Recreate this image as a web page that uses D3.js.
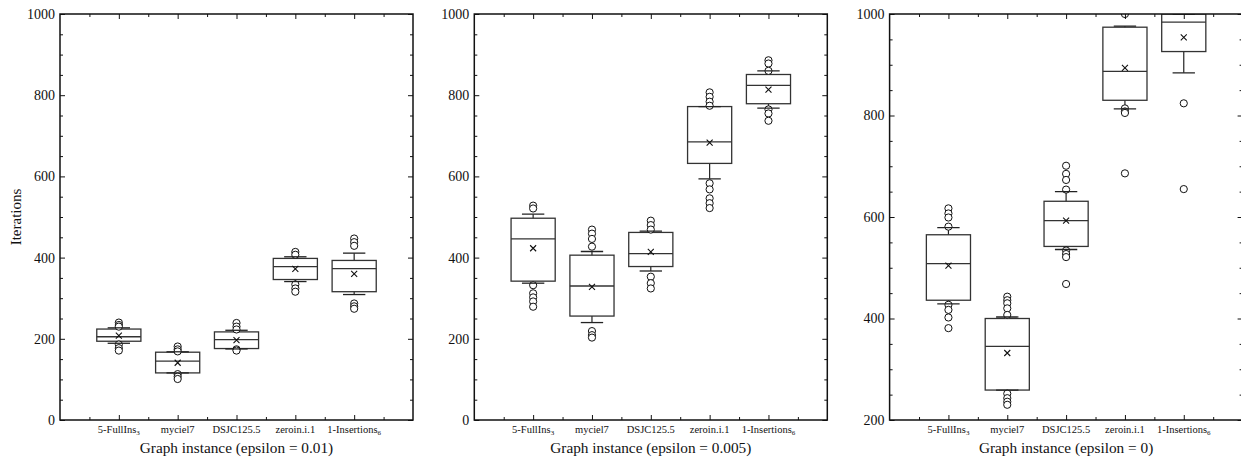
<!DOCTYPE html>
<html>
<head>
<meta charset="utf-8">
<script src="https://cdn.jsdelivr.net/npm/d3@7"></script>
<style>
  body { margin: 0; background: #fff; }
  svg { display: block; }
  text { font-family: "Liberation Serif", "Times New Roman", serif; }
</style>
</head>
<body>
<div id="vis-container"></div>
<script>
// graph instances, with subscript part kept separate
var categories = ["5-FullIns", "myciel7", "DSJC125.5", "zeroin.i.1", "1-Insertions"];
var subscripts = ["3", "", "", "", "6"];
var epsilons = ["0.01", "0.005", "0"];
var yDomains = [[0, 1000], [0, 1000], [200, 1000]];
var yTicks = [[0, 200, 400, 600, 800, 1000], [0, 200, 400, 600, 800, 1000], [200, 400, 600, 800, 1000]];

// per instance: [low whisker, q1, median, q3, high whisker, mean]
var stats001 = [
  [189, 194, 205, 224, 227, 208],
  [116, 116, 145, 167, 168, 141],
  [175, 176, 198, 217, 221, 197],
  [341, 346, 378, 398, 402, 372],
  [309, 316, 373, 393, 411, 360]
];
var outliers001 = [
  [240, 234, 230, 186, 177, 171],
  [181, 174, 169, 113, 107, 101],
  [239, 230, 223, 174, 171],
  [414, 407, 334, 324, 316],
  [447, 438, 429, 287, 280, 274]
];

var stats0005 = [
  [337, 342, 446, 497, 507, 423],
  [240, 256, 330, 406, 415, 328],
  [367, 378, 410, 462, 465, 414],
  [594, 632, 685, 772, 772, 683],
  [768, 779, 824, 851, 860, 814]
];
var outliers0005 = [
  [528, 521, 332, 312, 302, 292, 279],
  [469, 459, 446, 427, 219, 209, 203],
  [491, 480, 469, 353, 337, 324],
  [807, 796, 784, 774, 583, 568, 546, 534, 522],
  [886, 878, 860, 765, 755, 737]
];

var stats0 = [
  [429, 436, 508, 565, 579, 504],
  [259, 259, 345, 400, 403, 332],
  [536, 542, 593, 631, 650, 593],
  [813, 830, 887, 974, 976, 894],
  [884, 926, 984, 1000, 1000, 954]
];
var outliers0 = [
  [617, 607, 599, 581, 427, 417, 402, 381],
  [443, 436, 430, 420, 407, 252, 243, 236, 230],
  [701, 685, 673, 654, 534, 527, 521, 468],
  [1000, 814, 808, 805, 686],
  [824, 655]
];

var allStats = [stats001, stats0005, stats0];
var allOutliers = [outliers001, outliers0005, outliers0];

var W = 1241, H = 460;
var panelLeft = [60, 474.3, 889.6],
    panelW = 353,
    plotTop = 14, plotBottom = 420;
var serif = '"Liberation Serif", "Times New Roman", serif';

var svg = d3.select("#vis-container").append("svg")
  .attr("width", W).attr("height", H)
  .attr("font-family", serif);

var defs = svg.append("defs");

panelLeft.forEach(function(px, p) {
  var ph = plotBottom - plotTop;
  var x = d3.scaleLinear().domain([0, 6]).range([0, panelW]);
  var y = d3.scaleLinear().domain(yDomains[p]).range([ph, 0]);

  var g = svg.append("g").attr("transform", "translate(" + px + "," + plotTop + ")");

  defs.append("clipPath").attr("id", "clip" + p)
    .append("rect").attr("x", 0).attr("y", 0).attr("width", panelW).attr("height", ph);

  var marks = g.append("g").attr("clip-path", "url(#clip" + p + ")");
  var boxW = x(0.75) - x(0), capW = x(0.38) - x(0);

  var box = marks.selectAll("g.box")
    .data(allStats[p])
    .enter().append("g")
    .attr("class", "box")
    .attr("transform", function(d, i) { return "translate(" + x(i + 1) + ",0)"; });

  // whisker stems
  box.append("line")
    .attr("x1", 0).attr("x2", 0)
    .attr("y1", function(d) { return y(d[0]); })
    .attr("y2", function(d) { return y(d[1]); })
    .attr("stroke", "#222").attr("stroke-width", 1.2);
  box.append("line")
    .attr("x1", 0).attr("x2", 0)
    .attr("y1", function(d) { return y(d[3]); })
    .attr("y2", function(d) { return y(d[4]); })
    .attr("stroke", "#222").attr("stroke-width", 1.2);

  // box
  box.append("rect")
    .attr("x", -boxW / 2).attr("width", boxW)
    .attr("y", function(d) { return y(d[3]); })
    .attr("height", function(d) { return y(d[1]) - y(d[3]); })
    .attr("fill", "none").attr("stroke", "#333").attr("stroke-width", 1.3);

  // median
  box.append("line")
    .attr("x1", -boxW / 2).attr("x2", boxW / 2)
    .attr("y1", function(d) { return y(d[2]); })
    .attr("y2", function(d) { return y(d[2]); })
    .attr("stroke", "#333").attr("stroke-width", 1.3);

  // outliers
  box.selectAll("circle")
    .data(function(d, i) { return allOutliers[p][i]; })
    .enter().append("circle")
    .attr("cx", 0)
    .attr("cy", function(v) { return y(v); })
    .attr("r", 3.6)
    .attr("fill", "#fff").attr("stroke", "#111").attr("stroke-width", 1);

  // caps
  [0, 4].forEach(function(k) {
    box.append("line")
      .attr("x1", -capW / 2).attr("x2", capW / 2)
      .attr("y1", function(d) { return y(d[k]); })
      .attr("y2", function(d) { return y(d[k]); })
      .attr("stroke", "#222").attr("stroke-width", 1.3);
  });

  // mean cross
  box.append("path")
    .attr("d", function(d) {
      var m = y(d[5]), s = 3;
      return "M" + (-s) + "," + (m - s) + "L" + s + "," + (m + s) +
             "M" + (-s) + "," + (m + s) + "L" + s + "," + (m - s);
    })
    .attr("stroke", "#111").attr("stroke-width", 1.1).attr("fill", "none");

  // ticks
  var minorY = d3.range(yDomains[p][0], yDomains[p][1] + 1, 50).filter(function(v) { return v % 200 !== 0; });
  var majorX = [1, 2, 3, 4, 5], minorX = [0.5, 1.5, 2.5, 3.5, 4.5, 5.5];

  function addAxis(axis, tr) {
    var a = g.append("g").attr("transform", tr).call(axis);
    a.attr("font-family", serif);
    a.select(".domain").remove();
    a.selectAll(".tick line").attr("stroke", "#111").attr("stroke-width", 1);
    return a;
  }

  addAxis(d3.axisLeft(y).tickValues(minorY).tickSize(-3).tickFormat(""), "translate(0,0)");
  addAxis(d3.axisRight(y).tickValues(minorY).tickSize(-3).tickFormat(""), "translate(" + panelW + ",0)");
  addAxis(d3.axisRight(y).tickValues(yTicks[p]).tickSize(-5).tickFormat(""), "translate(" + panelW + ",0)");
  var yl = addAxis(d3.axisLeft(y).tickValues(yTicks[p]).tickSize(-5).tickPadding(5).tickFormat(d3.format("d")), "translate(0,0)");
  yl.attr("font-size", 14);
  yl.selectAll("text").attr("fill", "#111");

  addAxis(d3.axisBottom(x).tickValues(minorX).tickSize(-3).tickFormat(""), "translate(0," + ph + ")");
  addAxis(d3.axisBottom(x).tickValues(majorX).tickSize(-5).tickFormat(""), "translate(0," + ph + ")");
  addAxis(d3.axisTop(x).tickValues(minorX).tickSize(-3).tickFormat(""), "translate(0,0)");
  addAxis(d3.axisTop(x).tickValues(majorX).tickSize(-5).tickFormat(""), "translate(0,0)");

  // frame
  g.append("rect")
    .attr("x", 0).attr("y", 0).attr("width", panelW).attr("height", ph)
    .attr("fill", "none").attr("stroke", "#111").attr("stroke-width", 1.5);

  // category labels
  var cl = g.selectAll("text.cat")
    .data(categories)
    .enter().append("text")
    .attr("class", "cat")
    .attr("x", function(d, i) { return x(i + 1); })
    .attr("y", ph + 12.5)
    .attr("text-anchor", "middle")
    .attr("font-size", "10.5px")
    .attr("fill", "#111");
  cl.append("tspan").text(function(d) { return d; });
  cl.append("tspan")
    .attr("font-size", "7px")
    .attr("dy", 2)
    .text(function(d, i) { return subscripts[i]; });

  // x title
  g.append("text")
    .attr("x", panelW / 2)
    .attr("y", ph + 33)
    .attr("text-anchor", "middle")
    .attr("font-size", "15.3px")
    .attr("fill", "#111")
    .text("Graph instance (epsilon = " + epsilons[p] + ")");

  if (p === 0) {
    g.append("text")
      .attr("transform", "translate(" + (-39.5) + "," + (ph / 2) + ") rotate(-90)")
      .attr("text-anchor", "middle")
      .attr("font-size", "15px")
      .attr("fill", "#111")
      .text("Iterations");
  }
});
</script>
</body>
</html>
